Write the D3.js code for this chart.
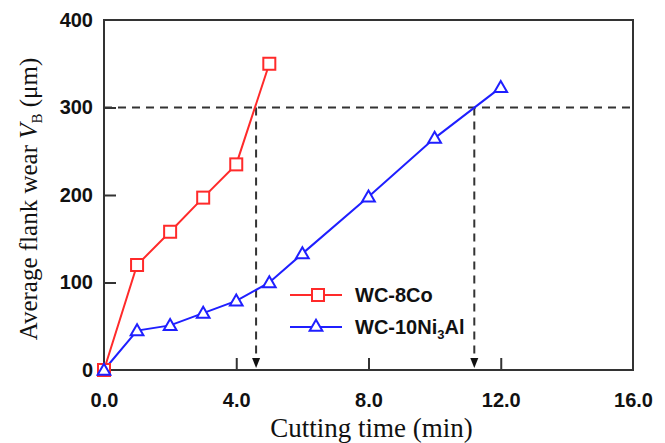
<!DOCTYPE html>
<html>
<head>
<meta charset="utf-8">
<script src="https://cdn.jsdelivr.net/npm/d3@7"></script>
<style>
body{margin:0;background:#fff;}
</style>
</head>
<body>
<svg id="chart" width="665" height="443"></svg>
<script>
// data
const timeCo = [0, 1, 2, 3, 4, 5];
const wearCo = [0, 120, 158, 197, 235, 350];
const timeNi = [0, 1, 2, 3, 4, 5, 6, 8, 10, 12];
const wearNi = [0, 45, 51, 65, 79, 100, 133, 198, 265, 323];
const xTicks = [0, 4, 8, 12, 16];
const yTicks = [0, 100, 200, 300, 400];
const limitWear = 300;
const limitTimes = [4.6, 11.2];

const W = 665, H = 443;
const margin = {l:104, r:32, t:20, b:73};
const red = '#ff2a2a', blue = '#1f1fff', frame = '#333';

const svg = d3.select('#chart');
const x = d3.scaleLinear().domain([0,16]).range([margin.l, W - margin.r]);
const y = d3.scaleLinear().domain([0,400]).range([H - margin.b, margin.t]);

//dashed guides
const guides = svg.append('g')
	.attr('stroke', frame)
	.attr('stroke-width', 2)
	.attr('stroke-dasharray', '8,6')
	.attr('fill', 'none');
guides.append('line')
	.attr('x1', x(0)).attr('x2', x(16))
	.attr('y1', y(limitWear)).attr('y2', y(limitWear));
limitTimes.forEach(t => {
	guides.append('line')
		.attr('x1', x(t)).attr('x2', x(t))
		.attr('y1', y(limitWear)).attr('y2', y(0) - 10);
	svg.append('path')
		.attr('d', `M${x(t)-4},${y(0)-12}L${x(t)+4},${y(0)-12}L${x(t)},${y(0)-2}Z`)
		.attr('fill', '#111');
});

//frame
svg.append('rect')
	.attr('x', x(0)).attr('y', y(400))
	.attr('width', x(16) - x(0)).attr('height', y(0) - y(400))
	.attr('fill', 'none').attr('stroke', frame).attr('stroke-width', 2);

//axes with inward ticks
const axisX = d3.axisBottom(x).tickValues(xTicks).tickSize(-12)
	.tickFormat(d3.format('.1f'));
const axisY = d3.axisLeft(y).tickValues(yTicks).tickSize(-12)
	.tickFormat(d3.format('d'));
const gx = svg.append('g').attr('transform', `translate(0,${y(0)})`).call(axisX);
const gy = svg.append('g').attr('transform', `translate(${x(0)},0)`).call(axisY);
[gx, gy].forEach(g => {
	g.select('.domain').remove();
	g.selectAll('line').attr('stroke', frame).attr('stroke-width', 2);
	g.selectAll('text')
		.attr('fill', '#111')
		.style('font-family', 'Liberation Sans, Arial, sans-serif')
		.style('font-size', '20px')
		.style('font-weight', 'bold');
});
gx.selectAll('.tick').filter(d => d === 0 || d === 16).select('line').remove();
gy.selectAll('.tick').filter(d => d === 0 || d === 400).select('line').remove();
gx.selectAll('text').attr('dy', '0.71em').attr('y', 23);
gy.selectAll('text').attr('x', -11);

//axis titles
svg.append('text')
	.attr('x', (x(0) + x(16)) / 2 + 3).attr('y', 437)
	.attr('text-anchor', 'middle')
	.style('font-family', 'Liberation Serif, Times New Roman, serif')
	.style('font-size', '27px')
	.attr('fill', '#111')
	.text('Cutting time (min)');
const yt = svg.append('text')
	.attr('transform', `translate(37,${(y(0) + y(400)) / 2 + 4}) rotate(-90)`)
	.attr('text-anchor', 'middle')
	.style('font-family', 'Liberation Serif, Times New Roman, serif')
	.style('font-size', '25px')
	.attr('fill', '#111');
yt.append('tspan').text('Average flank wear ');
yt.append('tspan').style('font-style', 'italic').text('V');
yt.append('tspan').attr('dy', 5).style('font-size', '15px').text('B');
yt.append('tspan').attr('dy', -5).text(' (μm)');

//series
const line = d3.line().x(d => x(d[0])).y(d => y(d[1]));
const coData = d3.zip(timeCo, wearCo);
const niData = d3.zip(timeNi, wearNi);
const tri = d3.symbol().type(d3.symbolTriangle).size(70);

svg.append('path').datum(coData).attr('d', line)
	.attr('fill', 'none').attr('stroke', red).attr('stroke-width', 2);
svg.append('path').datum(niData).attr('d', line)
	.attr('fill', 'none').attr('stroke', blue).attr('stroke-width', 2);

svg.selectAll('.sq').data(coData).join('rect')
	.attr('class', 'sq')
	.attr('x', d => x(d[0]) - 6).attr('y', d => y(d[1]) - 6)
	.attr('width', 12).attr('height', 12)
	.attr('fill', '#fff').attr('stroke', red).attr('stroke-width', 2);
svg.selectAll('.tri').data(niData).join('path')
	.attr('class', 'tri')
	.attr('transform', d => `translate(${x(d[0])},${y(d[1]) + 1})`)
	.attr('d', tri)
	.attr('fill', '#fff').attr('stroke', blue).attr('stroke-width', 2);

//legend
const legend = svg.append('g').attr('transform', 'translate(290,295)');
const legendItems = [
	{name:'WC-8Co', color:red, mark:'sq'},
	{name:'WC-10Ni', sub:'3', tail:'Al', color:blue, mark:'tri'}
];
legendItems.forEach((d, i) => {
	const g = legend.append('g').attr('transform', `translate(0,${i * 32})`);
	g.append('line').attr('x1', 0).attr('x2', 52)
		.attr('stroke', d.color).attr('stroke-width', 2);
	if (d.mark === 'sq') {
		g.append('rect').attr('x', 22).attr('y', -6).attr('width', 12).attr('height', 12)
			.attr('fill', '#fff').attr('stroke', d.color).attr('stroke-width', 2);
	} else {
		g.append('path').attr('transform', 'translate(26,0)').attr('d', tri)
			.attr('fill', '#fff').attr('stroke', d.color).attr('stroke-width', 2);
	}
	const t = g.append('text').attr('x', 65).attr('y', 7)
		.style('font-family', 'Liberation Sans, Arial, sans-serif')
		.style('font-size', '20px')
		.style('font-weight', 'bold')
		.attr('fill', '#111');
	t.append('tspan').text(d.name);
	if (d.sub) {
		t.append('tspan').attr('dy', 5).style('font-size', '13px').text(d.sub);
		t.append('tspan').attr('dy', -5).text(d.tail);
	}
});
</script>
</body>
</html>
